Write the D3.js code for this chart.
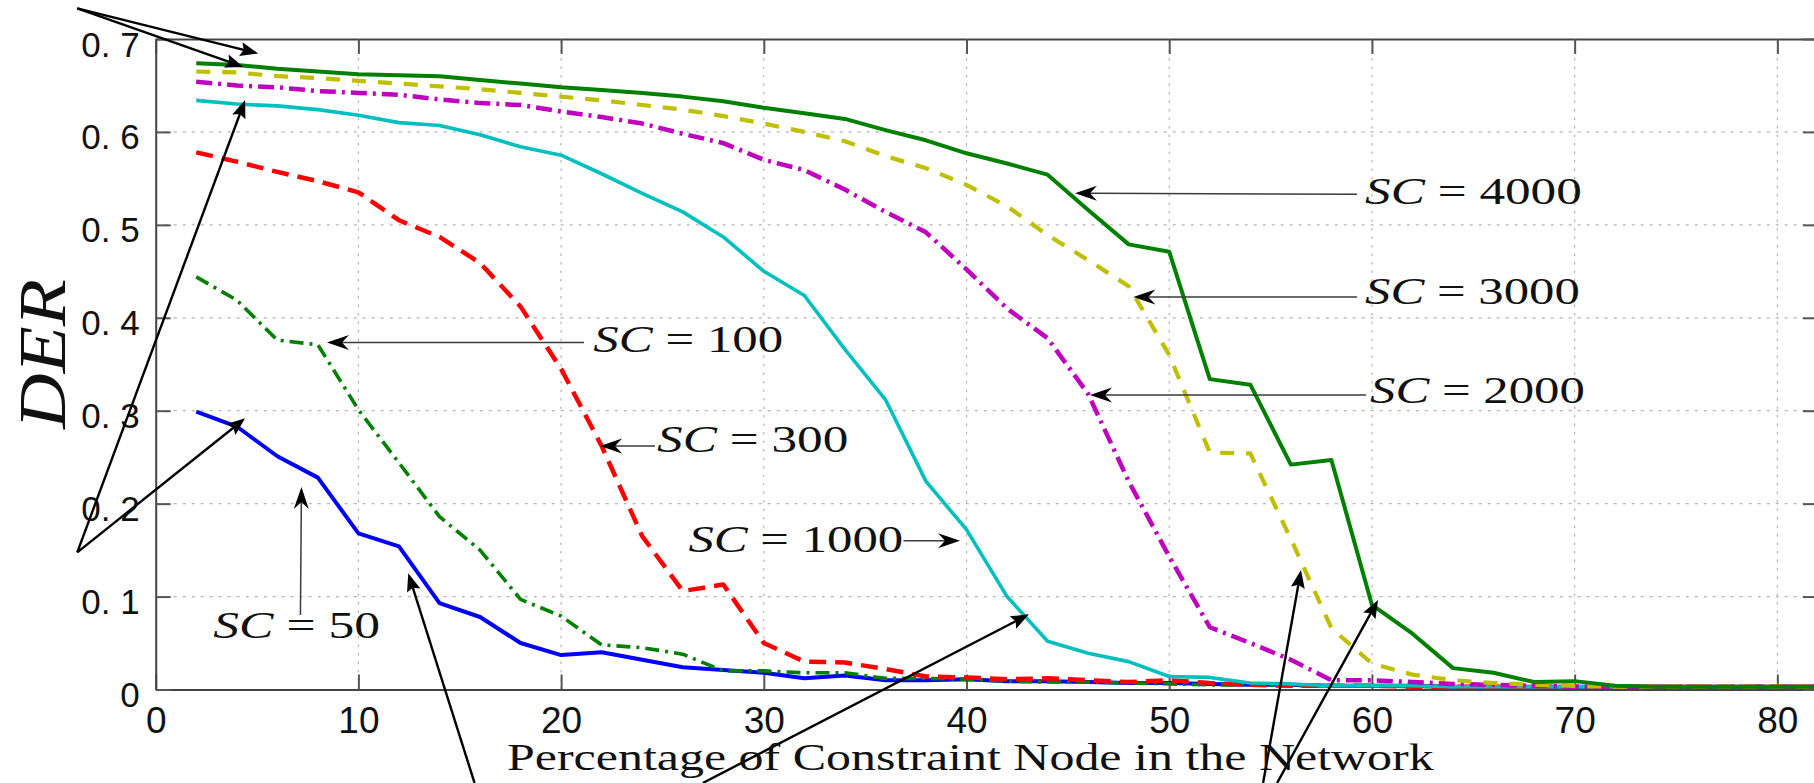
<!DOCTYPE html>
<html>
<head>
<meta charset="utf-8">
<script src="https://cdn.jsdelivr.net/npm/d3@7"></script>
<style>
  html, body { margin: 0; padding: 0; background: #ffffff; overflow: hidden; }
  svg { display: block; }
</style>
</head>
<body>
<svg id="chart" width="1814" height="783"></svg>
<script>
// Percentage of constraint nodes (x positions of every sample)
const pct = [2,4,6,8,10,12,14,16,18,20,22,24,26,28,30,32,34,36,38,40,42,44,46,48,50,52,54,56,58,60,62,64,66,68,70,72,74,76,78,80,82];

// DER for each SC setting
const der50   = [0.299,0.283,0.251,0.228,0.168,0.154,0.093,0.078,0.050,0.037,0.040,0.032,0.024,0.021,0.018,0.012,0.015,0.010,0.010,0.011,0.009,0.009,0.008,0.007,0.007,0.006,0.005,0.005,0.004,0.004,0.004,0.003,0.003,0.003,0.003,0.003,0.003,0.003,0.003,0.003,0.003];
const der100  = [0.444,0.419,0.376,0.371,0.301,0.244,0.186,0.150,0.097,0.079,0.048,0.045,0.038,0.020,0.020,0.018,0.018,0.012,0.012,0.011,0.009,0.008,0.008,0.007,0.006,0.005,0.005,0.004,0.004,0.004,0.003,0.003,0.003,0.003,0.003,0.003,0.003,0.003,0.003,0.003,0.003];
const der300  = [0.578,0.568,0.557,0.547,0.535,0.505,0.487,0.459,0.412,0.345,0.262,0.165,0.106,0.113,0.050,0.030,0.029,0.022,0.014,0.013,0.011,0.012,0.010,0.008,0.010,0.007,0.005,0.004,0.004,0.004,0.003,0.003,0.003,0.003,0.003,0.003,0.003,0.003,0.003,0.003,0.003];
const der1000 = [0.634,0.630,0.628,0.624,0.618,0.610,0.607,0.597,0.584,0.575,0.555,0.534,0.514,0.487,0.450,0.424,0.366,0.312,0.224,0.172,0.100,0.052,0.039,0.030,0.014,0.013,0.007,0.006,0.004,0.004,0.004,0.003,0.003,0.003,0.003,0.003,0.003,0.003,0.003,0.003,0.003];
const der2000 = [0.654,0.650,0.648,0.644,0.642,0.640,0.635,0.631,0.629,0.622,0.616,0.609,0.598,0.588,0.570,0.559,0.538,0.514,0.492,0.452,0.410,0.378,0.318,0.224,0.143,0.067,0.050,0.032,0.010,0.010,0.008,0.006,0.005,0.004,0.003,0.003,0.003,0.003,0.003,0.003,0.003];
const der3000 = [0.665,0.664,0.660,0.658,0.655,0.652,0.649,0.646,0.642,0.638,0.634,0.629,0.624,0.617,0.609,0.600,0.590,0.574,0.561,0.543,0.520,0.489,0.462,0.434,0.360,0.255,0.254,0.162,0.066,0.028,0.016,0.010,0.007,0.005,0.004,0.003,0.003,0.003,0.003,0.003,0.003];
const der4000 = [0.674,0.672,0.668,0.665,0.662,0.661,0.660,0.656,0.652,0.648,0.645,0.642,0.638,0.633,0.626,0.620,0.614,0.602,0.591,0.577,0.566,0.554,0.516,0.479,0.471,0.334,0.328,0.242,0.247,0.091,0.060,0.023,0.018,0.008,0.009,0.004,0.003,0.003,0.003,0.003,0.003];

// Axis ticks and titles
const xTickValues = [0,10,20,30,40,50,60,70,80];
const yTickValues = [0,0.1,0.2,0.3,0.4,0.5,0.6,0.7];
const xTitle = "Percentage of Constraint Node in the Network";
const yTitle = "DER";

// Text callouts: label value, text span (data units), arrow from -> to (data units)
const callouts = [
  { sc: "4000", tx0: 59.66, tx1: 70.36, base: 0.522, from: [59.26, 0.533], to: [45.35, 0.534] },
  { sc: "3000", tx0: 59.66, tx1: 70.26, base: 0.415, from: [59.26, 0.4225], to: [48.23, 0.4225] },
  { sc: "2000", tx0: 59.91, tx1: 70.51, base: 0.308, from: [59.71, 0.317], to: [46.09, 0.317] },
  { sc: "100",  tx0: 21.59, tx1: 30.96, base: 0.3635, from: [21.13, 0.3734], to: [8.45, 0.3734] },
  { sc: "300",  tx0: 24.73, tx1: 34.17, base: 0.256, from: [24.63, 0.262], to: [21.92, 0.262] },
  { sc: "1000", tx0: 26.28, tx1: 36.88, base: 0.1483, from: [36.89, 0.160], to: [39.68, 0.160] },
  { sc: "50",   tx0: 2.84,  tx1: 11.07, base: 0.0551, from: [7.14, 0.0802], to: [7.19, 0.2179] }
];

// Bold pointer arrows (data units; some start outside the axes)
const pointers = [
  { from: [-3.87, 0.733],  to: [5.06, 0.6844] },
  { from: [-3.87, 0.733],  to: [4.32, 0.6699] },
  { from: [-3.87, 0.1476], to: [4.41, 0.6344] },
  { from: [-3.87, 0.1476], to: [4.41, 0.2918] },
  { from: [15.73, -0.1006], to: [12.46, 0.1250] },
  { from: [26.99, -0.1006], to: [43.08, 0.0809] },
  { from: [54.63, -0.1006], to: [56.5, 0.1286] },
  { from: [55.32, -0.1006], to: [60.3, 0.0963] }
];

const svg = d3.select("#chart");
const x = d3.scaleLinear().domain([0, 82]).range([155.7, 1817.9]);
const y = d3.scaleLinear().domain([0, 0.7]).range([689.5, 39]);

// ---- grid ----
const grid = svg.append("g").attr("class", "grid");
grid.selectAll("line.gx").data(xTickValues.filter(d => d > 0)).join("line")
  .attr("class", "gx")
  .attr("x1", d => x(d)).attr("x2", d => x(d))
  .attr("y1", y(0)).attr("y2", y(0.7))
  .attr("stroke", "#b4b4b4").attr("stroke-width", 1.2).attr("stroke-dasharray", "2.5,6");
grid.selectAll("line.gy").data(yTickValues.filter(d => d > 0 && d < 0.7)).join("line")
  .attr("class", "gy")
  .attr("x1", x(0)).attr("x2", x(82))
  .attr("y1", d => y(d)).attr("y2", d => y(d))
  .attr("stroke", "#b4b4b4").attr("stroke-width", 1.2).attr("stroke-dasharray", "3,6");

// ---- axes (box with inward ticks) ----
const axisColor = "#444";
const yFmt = d => d === 0 ? "0" : d3.format(".1f")(d).replace(".", ". ");

const gBottom = svg.append("g").attr("transform", `translate(0,${y(0)})`)
  .call(d3.axisBottom(x).tickValues(xTickValues).tickSizeInner(-15).tickSizeOuter(0).tickPadding(17).tickFormat(d3.format("d")));
const gTop = svg.append("g").attr("transform", `translate(0,${y(0.7)})`)
  .call(d3.axisTop(x).tickValues(xTickValues).tickSizeInner(-15).tickSizeOuter(0).tickFormat(""));
const gLeft = svg.append("g").attr("transform", `translate(${x(0)},0)`)
  .call(d3.axisLeft(y).tickValues(yTickValues).tickSizeInner(-15).tickSizeOuter(0).tickPadding(16).tickFormat(yFmt));
const gRight = svg.append("g").attr("transform", `translate(${x(82)},0)`)
  .call(d3.axisRight(y).tickValues(yTickValues).tickSizeInner(-15).tickSizeOuter(0).tickFormat(""));

[gBottom, gTop, gLeft, gRight].forEach(g => {
  g.select(".domain").attr("stroke", axisColor).attr("stroke-width", 2);
  g.selectAll(".tick line").attr("stroke", "#555").attr("stroke-width", 2);
});
gBottom.selectAll(".tick text")
  .attr("font-family", "'Liberation Sans', Arial, sans-serif").attr("font-size", 37).attr("fill", "#111");
gLeft.selectAll(".tick text")
  .attr("font-family", "'Liberation Sans', Arial, sans-serif").attr("font-size", 35).attr("fill", "#111")
  .attr("dy", 17);
gTop.selectAll(".tick text").remove();
gRight.selectAll(".tick text").remove();

// ---- series ----
const series = [
  { key: "50",   values: der50,   color: "#0000ff", width: 4,   dash: null },
  { key: "100",  values: der100,  color: "#008000", width: 3.6, dash: "14,6,3,6" },
  { key: "300",  values: der300,  color: "#ff0000", width: 4.5, dash: "17,9" },
  { key: "1000", values: der1000, color: "#00bfbf", width: 3.6, dash: null },
  { key: "2000", values: der2000, color: "#bf00bf", width: 4.5, dash: "16,6,3,6" },
  { key: "3000", values: der3000, color: "#bfbf00", width: 4.2, dash: "14,12" },
  { key: "4000", values: der4000, color: "#008000", width: 4,   dash: null }
];
const line = d3.line().x((d, i) => x(pct[i])).y(d => y(d));
svg.append("g").selectAll("path").data(series).join("path")
  .attr("d", s => line(s.values))
  .attr("fill", "none")
  .attr("stroke", s => s.color)
  .attr("stroke-width", s => s.width)
  .attr("stroke-linejoin", "round")
  .attr("stroke-dasharray", s => s.dash);

// ---- arrow helper ----
function arrow(g, p0, p1, o) {
  const x0 = x(p0[0]), y0 = y(p0[1]), x1 = x(p1[0]), y1 = y(p1[1]);
  const dx = x1 - x0, dy = y1 - y0, len = Math.hypot(dx, dy);
  const ux = dx / len, uy = dy / len, nx = -uy, ny = ux;
  const bx = x1 - ux * o.headLen, by = y1 - uy * o.headLen;
  const mx = x1 - ux * (o.headLen - o.notch), my = y1 - uy * (o.headLen - o.notch);
  g.append("line")
    .attr("x1", x0).attr("y1", y0).attr("x2", mx).attr("y2", my)
    .attr("stroke", o.stroke).attr("stroke-width", o.width);
  g.append("path")
    .attr("d", `M${x1},${y1}L${bx + nx * o.headW},${by + ny * o.headW}L${mx},${my}L${bx - nx * o.headW},${by - ny * o.headW}Z`)
    .attr("fill", o.head);
}

// ---- callouts ----
const gCall = svg.append("g");
callouts.forEach(c => {
  arrow(gCall, c.from, c.to, { stroke: "#3a3a3a", width: 1.5, head: "#000", headLen: 22, headW: 7.5, notch: 7 });
  const t = gCall.append("text")
    .attr("font-family", "'Liberation Serif', 'Times New Roman', serif")
    .attr("font-size", 37).attr("fill", "#111");
  t.append("tspan").attr("font-style", "italic").text("SC");
  t.append("tspan").text(" = " + c.sc);
  const w = t.node().getComputedTextLength();
  const target = x(c.tx1) - x(c.tx0);
  t.attr("transform", `translate(${x(c.tx0)},${y(c.base)}) scale(${target / w},1)`);
});

// ---- bold pointers ----
const gPtr = svg.append("g");
pointers.forEach(p => {
  arrow(gPtr, p.from, p.to, { stroke: "#000", width: 2.4, head: "#000", headLen: 18, headW: 7, notch: 3 });
});

// ---- axis titles ----
const xt = svg.append("text")
  .attr("font-family", "'Liberation Serif', 'Times New Roman', serif")
  .attr("font-size", 37).attr("fill", "#111")
  .text(xTitle);
const xw = xt.node().getComputedTextLength();
xt.attr("transform", `translate(507,770) scale(${927 / xw},1)`);

const yt = svg.append("text")
  .attr("font-family", "'Liberation Serif', 'Times New Roman', serif")
  .attr("font-style", "italic")
  .attr("font-size", 68).attr("fill", "#111")
  .attr("text-anchor", "middle")
  .text(yTitle);
const yw = yt.node().getComputedTextLength();
yt.attr("transform", `translate(65,354) rotate(-90) scale(${150 / yw},1)`);
</script>
</body>
</html>
